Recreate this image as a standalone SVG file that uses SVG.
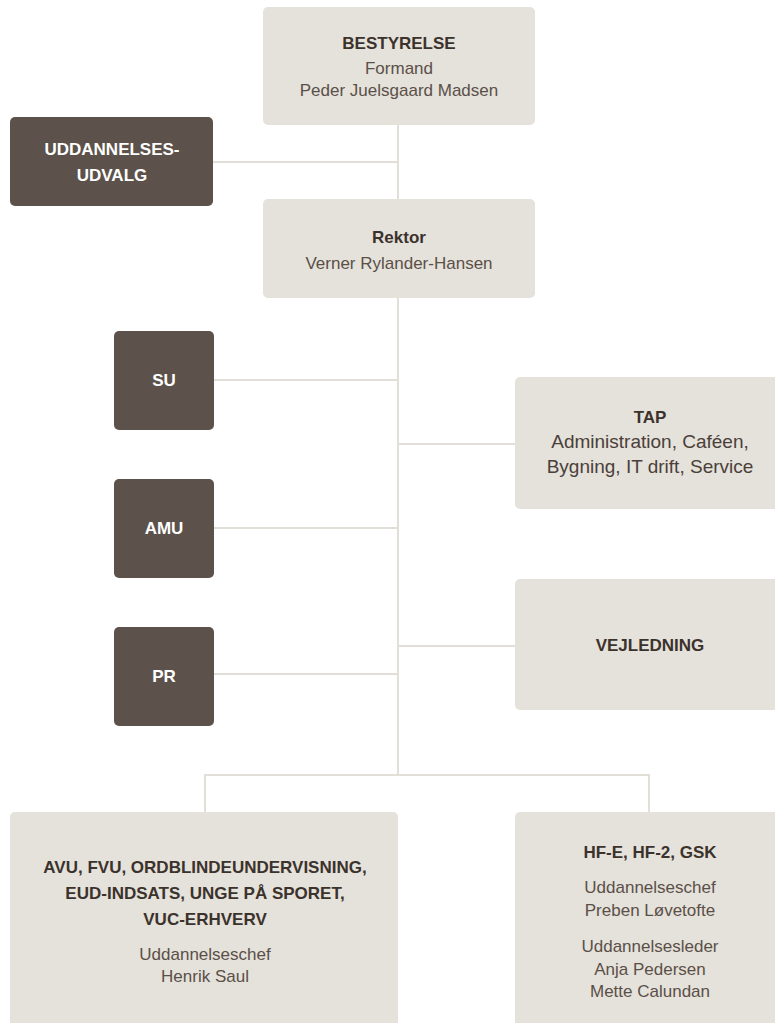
<svg xmlns="http://www.w3.org/2000/svg" width="775" height="1023" viewBox="0 0 775 1023">
<style>
.light{fill:#e5e1db}
.dark{fill:#5c524b}
.conn{stroke:#e2ded8;stroke-width:2;fill:none}
text{font-family:"Liberation Sans",Arial,sans-serif;text-anchor:middle}
.h{font-weight:bold;font-size:17px;fill:#3b322c}
.hw{font-weight:bold;font-size:17px;fill:#ffffff}
.s{font-size:17px;fill:#5a5048}
.sl{font-size:19px;fill:#4a4039}
</style>
<rect width="775" height="1023" fill="#ffffff"/>
<g id="connectors">
<path class="conn" d="M398 125V199M213 162H398M398 298V775M214 380H398M214 528H398M214 674H398M398 444H515M398 646H515M205 812V775H649V812"/>
</g>
<g id="bestyrelse">
<rect class="light" x="263" y="7" width="272" height="118" rx="5"/>
<text class="h" x="399" y="49">BESTYRELSE</text>
<text class="s" x="399" y="74">Formand</text>
<text class="s" x="399" y="96">Peder Juelsgaard Madsen</text>
</g>
<g id="uddannelsesudvalg">
<rect class="dark" x="10" y="117" width="203" height="89" rx="5"/>
<text class="hw" x="112" y="155">UDDANNELSES-</text>
<text class="hw" x="112" y="181">UDVALG</text>
</g>
<g id="rektor">
<rect class="light" x="263" y="199" width="272" height="99" rx="5"/>
<text class="h" x="399" y="243">Rektor</text>
<text class="s" x="399" y="269">Verner Rylander-Hansen</text>
</g>
<g id="su">
<rect class="dark" x="114" y="331" width="100" height="99" rx="5"/>
<text class="hw" x="164" y="386">SU</text>
</g>
<g id="amu">
<rect class="dark" x="114" y="479" width="100" height="99" rx="5"/>
<text class="hw" x="164" y="534">AMU</text>
</g>
<g id="pr">
<rect class="dark" x="114" y="627" width="100" height="99" rx="5"/>
<text class="hw" x="164" y="682">PR</text>
</g>
<g id="tap">
<rect class="light" x="515" y="377" width="275" height="132" rx="5"/>
<text class="h" x="650" y="423">TAP</text>
<text class="sl" x="650" y="448">Administration, Caféen,</text>
<text class="sl" x="650" y="473">Bygning, IT drift, Service</text>
</g>
<g id="vejledning">
<rect class="light" x="515" y="579" width="275" height="131" rx="5"/>
<text class="h" x="650" y="651">VEJLEDNING</text>
</g>
<g id="avu">
<rect class="light" x="10" y="812" width="388" height="230" rx="5"/>
<text class="h" x="205" y="873">AVU, FVU, ORDBLINDEUNDERVISNING,</text>
<text class="h" x="205" y="899">EUD-INDSATS, UNGE PÅ SPORET,</text>
<text class="h" x="205" y="925">VUC-ERHVERV</text>
<text class="s" x="205" y="960">Uddannelseschef</text>
<text class="s" x="205" y="982">Henrik Saul</text>
</g>
<g id="hf">
<rect class="light" x="515" y="812" width="275" height="230" rx="5"/>
<text class="h" x="650" y="858">HF-E, HF-2, GSK</text>
<text class="s" x="650" y="893">Uddannelseschef</text>
<text class="s" x="650" y="916">Preben Løvetofte</text>
<text class="s" x="650" y="952">Uddannelsesleder</text>
<text class="s" x="650" y="975">Anja Pedersen</text>
<text class="s" x="650" y="997">Mette Calundan</text>
</g>
</svg>
